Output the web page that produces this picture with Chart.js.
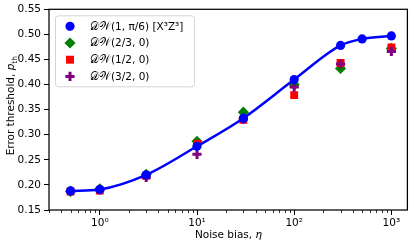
<!DOCTYPE html>
<html>
<head>
<meta charset="utf-8">
<script src="https://cdn.jsdelivr.net/npm/chart.js@4.4.1/dist/chart.umd.min.js"></script>
<style>
  html, body { margin: 0; padding: 0; background: #fff; }
  #wrap { width: 415px; height: 245px; }
</style>
</head>
<body>
<div id="wrap"><canvas id="thresholdChart" width="415" height="245"></canvas></div>
<script>
// noise bias values (x) and thresholds
const biasDW1 = [0.5, 1, 3, 10, 30, 100, 300, 500, 1000];
const thDW1 = [0.188, 0.191, 0.220, 0.277, 0.333, 0.410, 0.478, 0.491, 0.497];
const biasOther = [0.5, 1, 3, 10, 30, 100, 300, 1000];
const thDW23 = [0.187, 0.192, 0.221, 0.287, 0.345, 0.400, 0.432, 0.472];
const thDW12 = [0.187, 0.189, 0.218, 0.282, 0.330, 0.379, 0.443, 0.474];
const thDW32 = [0.187, 0.190, 0.215, 0.261, 0.331, 0.395, 0.441, 0.466];
const seriesLabels = ["𝒟𝒲(1, π/6) [X³Z³]", "𝒟𝒲(2/3, 0)", "𝒟𝒲(1/2, 0)", "𝒟𝒲(3/2, 0)"];
const xDecades = [1, 10, 100, 1000];
const xDecadeLabels = ["10⁰", "10¹", "10²", "10³"];
const yTicks = [0.15, 0.20, 0.25, 0.30, 0.35, 0.40, 0.45, 0.50, 0.55];

const FONT = "'DejaVu Sans', sans-serif";
Chart.defaults.font.family = FONT;
Chart.defaults.font.size = 10.5;
Chart.defaults.color = "#000";

function pts(xs, ys) {
  return xs.map((x, i) => ({ x: x, y: ys[i] }));
}

// frame, minor log ticks, y title with subscript and the in-axes legend
const extras = {
  id: "extras",
  afterDatasetsDraw(chart) {
    const ctx = chart.ctx;
    const a = chart.chartArea;
    const xs = chart.scales.x;

    ctx.save();
    ctx.strokeStyle = "#000";
    ctx.lineWidth = 1.25;
    ctx.strokeRect(a.left, a.top, a.right - a.left, a.bottom - a.top);

    // minor ticks on the log axis
    ctx.lineWidth = 0.8;
    ctx.beginPath();
    for (let d = 0.1; d <= 1000; d *= 10) {
      for (let k = 2; k <= 9; k++) {
        const v = d * k;
        if (v < xs.min || v > xs.max) continue;
        const px = Math.round(xs.getPixelForValue(v)) + 0.5;
        ctx.moveTo(px, a.bottom);
        ctx.lineTo(px, a.bottom + 3);
      }
    }
    ctx.stroke();

    // y axis title: "Error threshold, p_th"
    ctx.save();
    ctx.translate(10.3, (a.top + a.bottom) / 2 - 4);
    ctx.rotate(-Math.PI / 2);
    ctx.fillStyle = "#000";
    ctx.textBaseline = "alphabetic";
    const mainFont = "10.5px " + FONT, itFont = "italic 10.5px " + FONT, subFont = "7.5px " + FONT;
    const t1 = "Error threshold, ";
    ctx.font = mainFont; const w1 = ctx.measureText(t1).width;
    ctx.font = itFont; const w2 = ctx.measureText("p").width;
    ctx.font = subFont; const w3 = ctx.measureText("th").width;
    let tx = -(w1 + w2 + w3) / 2;
    ctx.font = mainFont; ctx.fillText(t1, tx, 4); tx += w1;
    ctx.font = itFont; ctx.fillText("p", tx, 4); tx += w2;
    ctx.font = subFont; ctx.fillText("th", tx, 6.5);
    ctx.restore();

    // legend box
    const bx = a.left + 6, by = a.top + 6, bw = 139, bh = 71;
    ctx.beginPath();
    ctx.roundRect(bx + 0.5, by + 0.5, bw, bh, 3);
    ctx.fillStyle = "rgba(255,255,255,0.8)";
    ctx.fill();
    ctx.strokeStyle = "#d6d6d6";
    ctx.lineWidth = 1;
    ctx.stroke();

    ctx.font = "10.5px " + FONT;
    ctx.textBaseline = "middle";
    ctx.textAlign = "left";
    chart.data.datasets.forEach((ds, i) => {
      const y = by + 11 + i * 16.7;
      ctx.fillStyle = ds.pointBackgroundColor;
      ctx.strokeStyle = ds.pointBorderColor;
      ctx.lineWidth = ds.pointBorderWidth;
      Chart.helpers.drawPoint(ctx, {
        pointStyle: ds.pointStyle,
        radius: ds.pointRadius,
        rotation: 0,
        borderWidth: ds.pointBorderWidth
      }, bx + 15, y);
      ctx.fillStyle = "#000";
      ctx.fillText(ds.label, bx + 35, y + 0.5);
    });
    ctx.restore();
  }
};

new Chart(document.getElementById("thresholdChart"), {
  type: "line",
  data: {
    datasets: [
      {
        label: seriesLabels[0],
        data: pts(biasDW1, thDW1),
        borderColor: "#0000ff",
        borderWidth: 2.5,
        cubicInterpolationMode: "monotone",
        pointStyle: "circle",
        pointRadius: 4.6,
        pointBackgroundColor: "#0000ff",
        pointBorderColor: "#0000ff",
        pointBorderWidth: 0,
        order: 0
      },
      {
        label: seriesLabels[1],
        data: pts(biasOther, thDW23),
        showLine: false,
        pointStyle: "rectRot",
        pointRadius: 5.6,
        pointBackgroundColor: "#008000",
        pointBorderColor: "#008000",
        pointBorderWidth: 0,
        order: 3
      },
      {
        label: seriesLabels[2],
        data: pts(biasOther, thDW12),
        showLine: false,
        pointStyle: "rect",
        pointRadius: 5.6,
        pointBackgroundColor: "#ff0000",
        pointBorderColor: "#ff0000",
        pointBorderWidth: 0,
        order: 2
      },
      {
        label: seriesLabels[3],
        data: pts(biasOther, thDW32),
        showLine: false,
        pointStyle: "cross",
        pointRadius: 4.6,
        pointBackgroundColor: "#800080",
        pointBorderColor: "#800080",
        pointBorderWidth: 3,
        order: 1
      }
    ]
  },
  options: {
    responsive: false,
    animation: false,
    devicePixelRatio: 1,
    layout: { padding: { top: 7, right: 3, left: 0, bottom: 0 } },
    plugins: {
      legend: { display: false },
      tooltip: { enabled: false }
    },
    scales: {
      x: {
        type: "logarithmic",
        min: 0.342,
        max: 1462,
        afterBuildTicks: s => { s.ticks = xDecades.map(v => ({ value: v, major: true })); },
        afterFit: s => { s.height = 35; },
        border: { display: false },
        grid: { drawOnChartArea: false, tickLength: 5, tickColor: "#000", tickWidth: 1 },
        ticks: {
          padding: 2,
          maxRotation: 0,
          autoSkip: false,
          callback: (v) => {
            const i = xDecades.indexOf(v);
            return i >= 0 ? xDecadeLabels[i] : "";
          }
        },
        title: { display: true, text: "Noise bias, 𝜂", padding: { top: 0, bottom: 3 } }
      },
      y: {
        min: 0.15,
        max: 0.55,
        afterBuildTicks: s => { s.ticks = yTicks.map(v => ({ value: v })); },
        afterFit: s => { s.width = 49; },
        border: { display: false },
        grid: { drawOnChartArea: false, tickLength: 5, tickColor: "#000", tickWidth: 1 },
        ticks: { padding: 3, callback: v => v.toFixed(2) },
        title: { display: false }
      }
    }
  },
  plugins: [extras]
});
</script>
</body>
</html>
